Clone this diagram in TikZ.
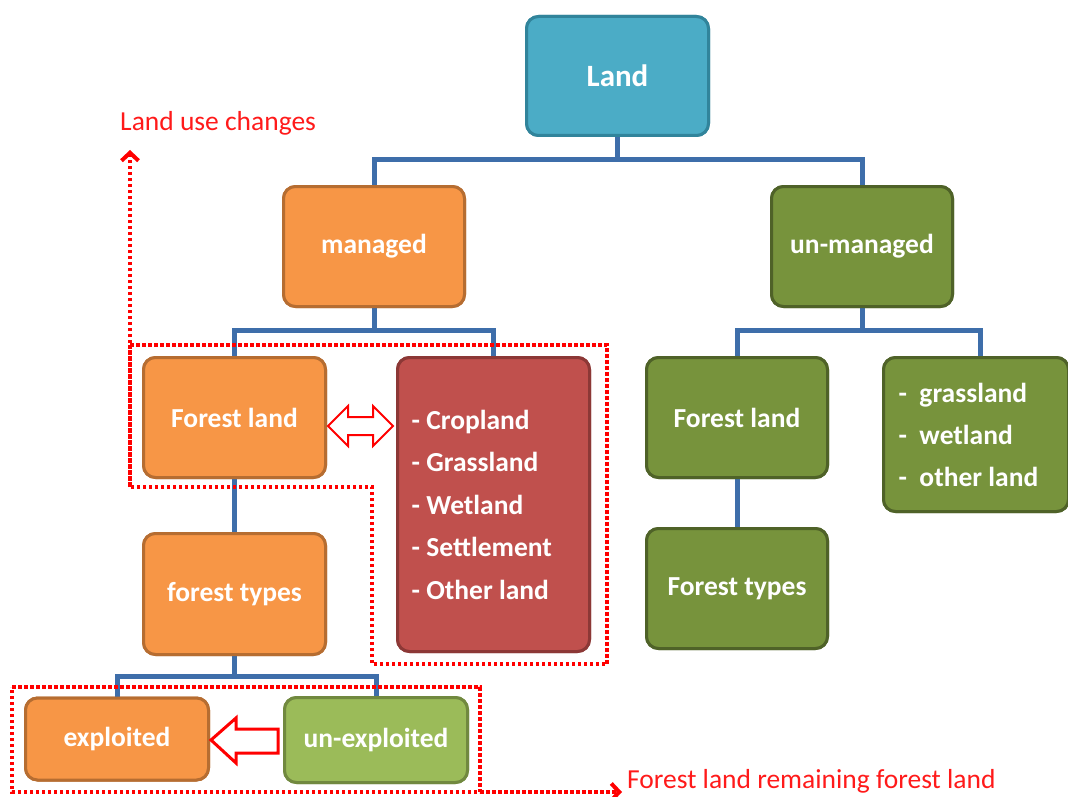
\documentclass[tikz,border=0pt]{standalone}
\usepackage{fontspec}
\setmainfont{Carlito}
\usetikzlibrary{arrows.meta,calc}
\definecolor{landfill}{HTML}{4BACC6}
\definecolor{landdraw}{HTML}{31849B}
\definecolor{orfill}{HTML}{F79646}
\definecolor{ordraw}{HTML}{B66D31}
\definecolor{olfill}{HTML}{77933C}
\definecolor{oldraw}{HTML}{4F6228}
\definecolor{ltfill}{HTML}{9BBB59}
\definecolor{ltdraw}{HTML}{71893F}
\definecolor{rdfill}{HTML}{C0504D}
\definecolor{rddraw}{HTML}{8C3836}
\definecolor{conncol}{HTML}{3E6EAA}
\definecolor{lblred}{HTML}{FF1A1A}
\begin{document}
\begin{tikzpicture}[x=1pt,y=-1pt,
  box/.style={rectangle,rounded corners=12pt,line width=3pt,text=white,
    font=\bfseries\fontsize{27.5}{32}\selectfont,inner sep=0pt,outer sep=0pt,align=center},
  landbox/.style={box,fill=landfill,draw=landdraw,font=\bfseries\fontsize{31}{36}\selectfont},
  orbox/.style={box,fill=orfill,draw=ordraw},
  olbox/.style={box,fill=olfill,draw=oldraw},
  ltbox/.style={box,fill=ltfill,draw=ltdraw},
  rdbox/.style={box,fill=rdfill,draw=rddraw},
  listtext/.style={text=white,inner sep=0pt,anchor=west,align=left,
    font=\bfseries\fontsize{27.5}{42.5}\selectfont},
  conn/.style={draw=conncol,line width=5pt},
  reddot/.style={draw=red,line width=4pt,dash pattern=on 3.5pt off 2.5pt},
  barb/.style={-{Straight Barb[length=8pt,width=17pt,line width=4pt]}},
  hollow/.style={draw=red,fill=white,line width=2pt,line join=miter},
  lbl/.style={text=lblred,font=\fontsize{27.5}{30}\selectfont,inner sep=0pt}]
\useasboundingbox (0,0) rectangle (1068,797);

% nodes
\node[landbox,minimum width=182,minimum height=119] (land) at (617.5,76) {Land};
\node[orbox,minimum width=181,minimum height=120] (managed) at (374,246.5) {managed};
\node[olbox,minimum width=181,minimum height=120] (unmanaged) at (862,246.5) {un-managed};
\node[orbox,minimum width=182,minimum height=120] (fl) at (234.5,417.5) {Forest land};
\node[rdbox,minimum width=192,minimum height=294] (lst) at (493.5,504.5) {};
\node[olbox,minimum width=181,minimum height=120] (ufl) at (737,417.5) {Forest land};
\node[olbox,minimum width=185,minimum height=154] (ulst) at (976,434.5) {};
\node[orbox,minimum width=182,minimum height=121] (ft) at (234.5,594) {forest types};
\node[olbox,minimum width=181,minimum height=120] (uft) at (737,588.5) {Forest types};
\node[orbox,minimum width=183,minimum height=82] (expl) at (117,739) {exploited};
\node[ltbox,minimum width=183,minimum height=85] (unexpl) at (376,740) {un-exploited};

% connectors
\draw[conn] (land.south) -- ++(0,24) -| (managed.north);
\draw[conn] (land.south) -- ++(0,24) -| (unmanaged.north);
\draw[conn] (managed.south) -- ++(0,24) -| (lst.north);
\draw[conn] (managed.south) -- ++(0,24) -| (fl.north);
\draw[conn] (unmanaged.south) -- ++(0,24) -| (ufl.north);
\draw[conn] (unmanaged.south) -- ++(0,24) -| ($(ulst.north)+(4,0)$);
\draw[conn] (fl.south) -- (ft.north);
\draw[conn] (ufl.south) -- (uft.north);
\draw[conn] (ft.south) -- ++(0,22) -| (expl.north);
\draw[conn] (ft.south) -- ++(0,22) -| (unexpl.north);

% redraw boxes over connector ends
\node[landbox,minimum width=182,minimum height=119] at (land) {Land};
\node[orbox,minimum width=181,minimum height=120] at (managed) {managed};
\node[olbox,minimum width=181,minimum height=120] at (unmanaged) {un-managed};
\node[orbox,minimum width=182,minimum height=120] at (fl) {Forest land};
\node[rdbox,minimum width=192,minimum height=294] at (lst) {};
\node[olbox,minimum width=181,minimum height=120] at (ufl) {Forest land};
\node[olbox,minimum width=185,minimum height=154] at (ulst) {};
\node[orbox,minimum width=182,minimum height=121] at (ft) {forest types};
\node[olbox,minimum width=181,minimum height=120] at (uft) {Forest types};
\node[orbox,minimum width=183,minimum height=82] at (expl) {exploited};
\node[ltbox,minimum width=183,minimum height=85] at (unexpl) {un-exploited};

% list texts
\node[listtext] (lsttext) at ($(lst.west)+(14,0)$)
  {- Cropland\\- Grassland\\- Wetland\\- Settlement\\- Other land};
\node[listtext,font=\bfseries\fontsize{27.5}{42}\selectfont] (ulsttext) at ($(ulst.west)+(15,0)$)
  {-\hspace{0.45em}grassland\\-\hspace{0.45em}wetland\\-\hspace{0.45em}other land};

% labels
\node[lbl,anchor=west] (luc) at (120,123) {Land use changes};
\node[lbl,anchor=west] (flr) at (627,781) {Forest land remaining forest land};

% red dotted outlines
\coordinate (luctip) at (130,150);
\coordinate (flrtip) at (622,792);
\coordinate (lucstart) at (130,487);
\coordinate (flrstart) at (480,792);
\draw[reddot] (130,345) -- (607,345) -- (607,664) -- (372,664) -- (372,487) -- (130,487) -- cycle;
\draw[reddot,barb] (lucstart) -- (luctip);
\draw[reddot] (12,687) -- (480,687) -- (480,792) -- (12,792) -- cycle;
\draw[reddot,barb] (flrstart) -- (flrtip);

% hollow arrows
\draw[hollow] (328,426) -- (348,406) -- (348,417) -- (373,417) -- (373,406) -- (393,426)
  -- (373,446) -- (373,435) -- (348,435) -- (348,446) -- cycle;
\draw[hollow,line width=3pt] (211,740) -- (236,718) -- (236,729) -- (278,729) -- (278,753)
  -- (236,753) -- (236,763) -- cycle;
\end{tikzpicture}
\end{document}
